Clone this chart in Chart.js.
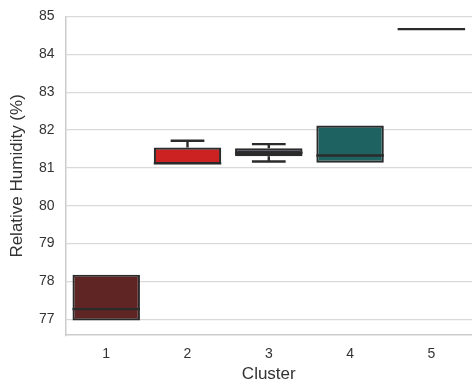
<!DOCTYPE html>
<html>
<head>
<meta charset="utf-8">
<script src="https://cdn.jsdelivr.net/npm/chart.js@4/dist/chart.umd.min.js"></script>
<style>
  html, body { margin: 0; padding: 0; background: #fff; }
  #wrap { width: 472px; height: 383px; }
</style>
</head>
<body>
<div id="wrap"><canvas id="chart"></canvas></div>
<script>
// box plot values
const clusters    = ["1", "2", "3", "4", "5"];
const q1          = [76.97, 81.10, 81.31, 81.14, 84.67];
const q3          = [78.18, 81.54, 81.52, 82.12, 84.67];
const medians     = [77.27, 81.12, 81.40, 81.33, 84.67];
const whiskerLow  = [76.97, 81.10, 81.17, 81.14, 84.67];
const whiskerHigh = [78.18, 81.72, 81.63, 82.12, 84.67];
const boxColors   = ["#5f2424", "#cc2222", "#2f2f3f", "#1f6262", "#2a2a2a"];
const yTicks      = [77, 78, 79, 80, 81, 82, 83, 84, 85];

const edgeColor = "#2b2b2b";

// draws medians and whiskers on top of the floating bars
const boxPlotLines = {
    id: "boxPlotLines",
    afterDatasetsDraw: function(chart) {
        const ctx = chart.ctx;
        const yScale = chart.scales.y;
        const meta = chart.getDatasetMeta(0);
        ctx.save();
        ctx.strokeStyle = edgeColor;
        ctx.lineWidth = 2.4;
        meta.data.forEach(function(bar, i) {
            const half = bar.width / 2;
            const cap = bar.width / 4;
            const yMed = yScale.getPixelForValue(medians[i]);
            const yQ1 = yScale.getPixelForValue(q1[i]);
            const yQ3 = yScale.getPixelForValue(q3[i]);
            const yLo = yScale.getPixelForValue(whiskerLow[i]);
            const yHi = yScale.getPixelForValue(whiskerHigh[i]);
            ctx.beginPath();
            ctx.moveTo(bar.x - half, yMed);
            ctx.lineTo(bar.x + half, yMed);
            ctx.stroke();
            if (whiskerHigh[i] > q3[i]) {
                ctx.beginPath();
                ctx.moveTo(bar.x, yQ3);
                ctx.lineTo(bar.x, yHi);
                ctx.moveTo(bar.x - cap, yHi);
                ctx.lineTo(bar.x + cap, yHi);
                ctx.stroke();
            }
            if (whiskerLow[i] < q1[i]) {
                ctx.beginPath();
                ctx.moveTo(bar.x, yQ1);
                ctx.lineTo(bar.x, yLo);
                ctx.moveTo(bar.x - cap, yLo);
                ctx.lineTo(bar.x + cap, yLo);
                ctx.stroke();
            }
        });
        ctx.restore();
    }
};

const fontFamily = "'Liberation Sans', Arial, sans-serif";
const tickFont = { family: fontFamily, size: 14 };
const titleFont = { family: fontFamily, size: 17, lineHeight: 1.0 };

new Chart(document.getElementById("chart").getContext("2d"), {
    type: "bar",
    data: {
        labels: clusters,
        datasets: [{
            data: q1.map(function(v, i) { return [v, q3[i]]; }),
            backgroundColor: boxColors,
            borderColor: edgeColor,
            borderWidth: 2.2,
            borderSkipped: false,
            barPercentage: 0.83,
            categoryPercentage: 1.0
        }]
    },
    options: {
        responsive: true,
        maintainAspectRatio: false,
        animation: false,
        layout: { padding: { left: 9, top: 0, right: 0, bottom: 0 } },
        plugins: {
            legend: { display: false },
            tooltip: { enabled: false }
        },
        scales: {
            x: {
                grid: { display: false, drawTicks: false },
                border: { color: "#cccccc", width: 1.5 },
                ticks: { color: "#333", font: tickFont, padding: 11 },
                title: { display: true, text: "Cluster", color: "#333", font: titleFont, padding: { top: -8, bottom: 0 } }
            },
            y: {
                min: 76.58,
                max: 85,
                afterBuildTicks: function(scale) {
                    scale.ticks = yTicks.map(function(v) { return { value: v }; });
                },
                grid: { color: "#d9d9d9", lineWidth: 1.3, drawTicks: false },
                border: { color: "#cccccc", width: 1.5 },
                ticks: { color: "#333", font: { family: fontFamily, size: 14, lineHeight: 0.8 }, padding: 11 },
                title: { display: true, text: "Relative Humidity (%)", color: "#333", font: titleFont, padding: { top: 0, bottom: 2 } }
            }
        }
    },
    plugins: [boxPlotLines]
});
</script>
</body>
</html>
